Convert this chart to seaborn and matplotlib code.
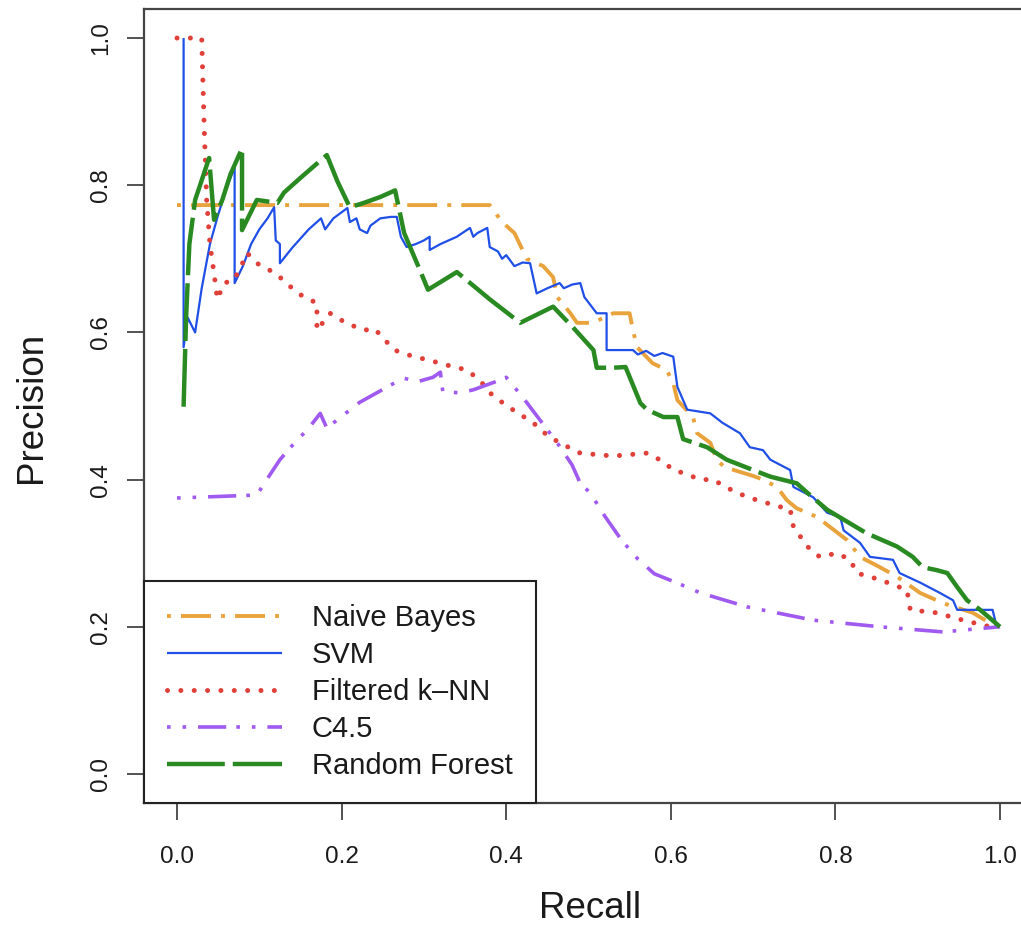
import numpy as np
import pandas as pd
import matplotlib
matplotlib.use("Agg")
import matplotlib.pyplot as plt
import seaborn as sns

# ---- precision / recall curves -------------------------------------------
nb_recall = [0.0, 0.38, 0.395, 0.41, 0.425, 0.445, 0.457, 0.462, 0.478, 0.486,
             0.505, 0.53, 0.55, 0.554, 0.559, 0.578, 0.595, 0.603, 0.608, 0.627,
             0.632, 0.648, 0.656, 0.665, 0.70, 0.712, 0.729, 0.741, 0.753, 0.778,
             0.793, 0.814, 0.83, 0.854, 0.875, 0.903, 0.931, 0.967, 0.991, 1.0]
nb_precision = [0.773, 0.773, 0.75, 0.735, 0.70, 0.69, 0.675, 0.648, 0.626, 0.613,
                0.613, 0.626, 0.626, 0.603, 0.58, 0.558, 0.549, 0.531, 0.508, 0.485,
                0.463, 0.45, 0.427, 0.417, 0.405, 0.40, 0.39, 0.372, 0.361, 0.349,
                0.336, 0.318, 0.295, 0.281, 0.268, 0.246, 0.232, 0.219, 0.203, 0.2]

svm_recall = [0.008, 0.008, 0.013, 0.022, 0.03, 0.04, 0.05, 0.06, 0.07, 0.07,
              0.08, 0.09, 0.10, 0.11, 0.118, 0.12, 0.125, 0.125, 0.14, 0.16,
              0.175, 0.18, 0.19, 0.207, 0.21, 0.218, 0.222, 0.231, 0.235, 0.247,
              0.26, 0.267, 0.272, 0.279, 0.29, 0.30, 0.307, 0.307, 0.32, 0.34,
              0.356, 0.36, 0.365, 0.377, 0.38, 0.39, 0.395, 0.40, 0.41, 0.42,
              0.429, 0.437, 0.45, 0.465, 0.47, 0.48, 0.49, 0.495, 0.51, 0.522,
              0.522, 0.554, 0.56, 0.57, 0.58, 0.59, 0.603, 0.608, 0.62, 0.648,
              0.663, 0.684, 0.696, 0.712, 0.721, 0.745, 0.749, 0.773, 0.79, 0.806,
              0.81, 0.83, 0.842, 0.87, 0.878, 0.903, 0.927, 0.943, 0.948, 0.991,
              0.996, 1.0]
svm_precision = [1.0, 0.58, 0.62, 0.60, 0.66, 0.72, 0.76, 0.795, 0.825, 0.667,
                 0.69, 0.72, 0.74, 0.755, 0.77, 0.725, 0.72, 0.694, 0.715, 0.74,
                 0.755, 0.74, 0.755, 0.769, 0.75, 0.755, 0.74, 0.735, 0.745, 0.755,
                 0.757, 0.757, 0.73, 0.716, 0.72, 0.725, 0.73, 0.712, 0.72, 0.73,
                 0.742, 0.73, 0.735, 0.742, 0.716, 0.71, 0.70, 0.705, 0.69, 0.695,
                 0.694, 0.653, 0.66, 0.667, 0.66, 0.665, 0.667, 0.648, 0.626, 0.626,
                 0.576, 0.576, 0.57, 0.575, 0.568, 0.572, 0.567, 0.526, 0.495, 0.49,
                 0.477, 0.463, 0.444, 0.44, 0.427, 0.413, 0.39, 0.376, 0.355, 0.349,
                 0.331, 0.314, 0.295, 0.291, 0.273, 0.26, 0.246, 0.236, 0.223, 0.223,
                 0.2, 0.2]

knn_recall = [0.0, 0.03, 0.033, 0.036, 0.04, 0.045, 0.049, 0.057, 0.069, 0.078,
              0.085, 0.097, 0.12, 0.14, 0.154, 0.17, 0.17, 0.186, 0.205, 0.227,
              0.24, 0.264, 0.285, 0.307, 0.33, 0.352, 0.368, 0.38, 0.395, 0.408,
              0.433, 0.45, 0.465, 0.49, 0.53, 0.571, 0.59, 0.603, 0.615, 0.636,
              0.651, 0.68, 0.705, 0.733, 0.745, 0.749, 0.766, 0.781, 0.802, 0.818,
              0.826, 0.854, 0.887, 0.891, 0.923, 0.955, 0.988, 1.0]
knn_precision = [1.0, 1.0, 0.88, 0.78, 0.72, 0.68, 0.645, 0.667, 0.671, 0.69,
                 0.708, 0.694, 0.68, 0.66, 0.648, 0.64, 0.603, 0.626, 0.613, 0.603,
                 0.605, 0.576, 0.568, 0.562, 0.555, 0.549, 0.535, 0.518, 0.505, 0.495,
                 0.477, 0.46, 0.45, 0.436, 0.432, 0.436, 0.425, 0.413, 0.409, 0.40,
                 0.40, 0.382, 0.372, 0.363, 0.36, 0.336, 0.309, 0.295, 0.30, 0.291,
                 0.273, 0.264, 0.25, 0.223, 0.219, 0.209, 0.20, 0.2]

c45_recall = [0.0, 0.097, 0.109, 0.125, 0.146, 0.158, 0.174, 0.182, 0.19, 0.222,
              0.259, 0.275, 0.292, 0.311, 0.32, 0.323, 0.344, 0.36, 0.392, 0.40,
              0.42, 0.441, 0.462, 0.48, 0.49, 0.502, 0.52, 0.54, 0.56, 0.58,
              0.60, 0.611, 0.636, 0.693, 0.773, 0.854, 0.931, 0.96, 1.0]
c45_precision = [0.375, 0.379, 0.40, 0.427, 0.454, 0.467, 0.49, 0.47, 0.477, 0.505,
                 0.528, 0.538, 0.533, 0.539, 0.546, 0.519, 0.518, 0.522, 0.535, 0.539,
                 0.512, 0.481, 0.45, 0.42, 0.395, 0.382, 0.35, 0.318, 0.292, 0.272,
                 0.263, 0.258, 0.246, 0.227, 0.209, 0.20, 0.193, 0.196, 0.2]

rf_recall = [0.008, 0.011, 0.015, 0.022, 0.028, 0.039, 0.045, 0.055, 0.065, 0.079,
             0.079, 0.097, 0.122, 0.13, 0.15, 0.182, 0.195, 0.21, 0.227, 0.247,
             0.265, 0.276, 0.295, 0.305, 0.34, 0.352, 0.38, 0.417, 0.457, 0.481,
             0.506, 0.51, 0.53, 0.545, 0.563, 0.571, 0.591, 0.608, 0.615, 0.644,
             0.668, 0.70, 0.721, 0.753, 0.766, 0.79, 0.838, 0.875, 0.894, 0.906,
             0.923, 0.936, 0.948, 0.96, 0.976, 1.0]
rf_precision = [0.499, 0.62, 0.72, 0.78, 0.80, 0.837, 0.753, 0.78, 0.815, 0.85,
                0.739, 0.78, 0.776, 0.79, 0.81, 0.841, 0.805, 0.77, 0.776, 0.784,
                0.793, 0.735, 0.685, 0.658, 0.682, 0.671, 0.645, 0.613, 0.635, 0.607,
                0.576, 0.552, 0.552, 0.553, 0.504, 0.495, 0.485, 0.485, 0.455, 0.444,
                0.427, 0.413, 0.404, 0.395, 0.382, 0.359, 0.327, 0.309, 0.295, 0.281,
                0.277, 0.273, 0.254, 0.236, 0.223, 0.2]

models = ["Naive Bayes", "SVM", "Filtered k\u2013NN", "C4.5", "Random Forest"]
colors = ["#E9A33C", "#1F4FE6", "#E0403A", "#A05AF0", "#2A8A22"]
tick_values = [0.0, 0.2, 0.4, 0.6, 0.8, 1.0]
tick_labels = ["0.0", "0.2", "0.4", "0.6", "0.8", "1.0"]

curves = [(nb_recall, nb_precision), (svm_recall, svm_precision),
          (knn_recall, knn_precision), (c45_recall, c45_precision),
          (rf_recall, rf_precision)]

frames = []
for name, (r, p) in zip(models, curves):
    frames.append(pd.DataFrame({"model": name, "Recall": r, "Precision": p,
                                "order": np.arange(len(r))}))
df = pd.concat(frames, ignore_index=True)

# line appearance per model: (linewidth in pt, linestyle, capstyle)
styles = {
    "Naive Bayes": dict(lw=2.8, ls=(0, (1, 2.6, 7.7, 2.6)), dash_capstyle="butt"),
    "SVM": dict(lw=1.6, ls="-", dash_capstyle="butt"),
    "Filtered k\u2013NN": dict(lw=3.6, ls=(0, (0.01, 2.66)), dash_capstyle="round"),
    "C4.5": dict(lw=2.6, ls=(0, (1, 3.3, 1, 3.3, 7.8, 2.8)), dash_capstyle="butt"),
    "Random Forest": dict(lw=3.2, ls=(0, (13, 1.8)), dash_capstyle="butt"),
}

sns.set_style("white")
plt.rcParams["font.family"] = ["Liberation Sans", "DejaVu Sans"]

W, H = 1021, 925
fig = plt.figure(figsize=(W / 100, H / 100), dpi=100)
# axes box: x 144..1033 px (right edge runs off the canvas), y 8.6..803.4 px
ax = fig.add_axes([144.1 / W, (H - 803.4) / H, 888.8 / W, 794.8 / H])

for name, col in zip(models, colors):
    sub = df[df["model"] == name].sort_values("order")
    st = styles[name]
    sns.lineplot(data=sub, x="Recall", y="Precision", ax=ax, sort=False,
                 estimator=None, color=col, linewidth=st["lw"],
                 linestyle=st["ls"], dash_capstyle=st["dash_capstyle"],
                 solid_capstyle="butt", label=name, legend=False)

ax.set_xlim(-0.04, 1.04)
ax.set_ylim(-0.04, 1.04)
ax.set_xticks(tick_values)
ax.set_xticklabels(tick_labels)
ax.set_yticks(tick_values)
ax.set_yticklabels(tick_labels)
ax.set_xlabel("")
ax.set_ylabel("")

spine_col = "#444444"
for side in ["left", "bottom", "top", "right"]:
    ax.spines[side].set_color(spine_col)
    ax.spines[side].set_linewidth(1.6)

ax.tick_params(axis="both", direction="out", length=12, width=1.3,
               color=spine_col, labelsize=17.5, labelcolor="#1a1a1a")
ax.tick_params(axis="x", pad=19, bottom=True)
ax.tick_params(axis="y", pad=11, left=True)
for lab in ax.get_yticklabels():
    lab.set_rotation(90)
    lab.set_va("center")
    lab.set_ha("right")

fig.text(590 / W, (H - 918) / H, "Recall", fontsize=26.5, color="#1a1a1a",
         ha="center", va="baseline")
fig.text(41 / W, (H - 407) / H, "Precision", fontsize=26.5, color="#1a1a1a",
         ha="center", va="baseline", rotation=90, rotation_mode="anchor")

leg = ax.legend(handles=ax.get_lines()[:5], labels=models, loc="lower left",
                bbox_to_anchor=(0, 0), borderaxespad=0, fontsize=21,
                handlelength=3.94, handletextpad=1.0, borderpad=0.8,
                labelspacing=0.31, frameon=True, fancybox=False,
                framealpha=1, edgecolor="#222222")
leg.get_frame().set_linewidth(1.5)
for t in leg.get_texts():
    t.set_color("#1a1a1a")

fig.savefig("out.png", dpi=100)
